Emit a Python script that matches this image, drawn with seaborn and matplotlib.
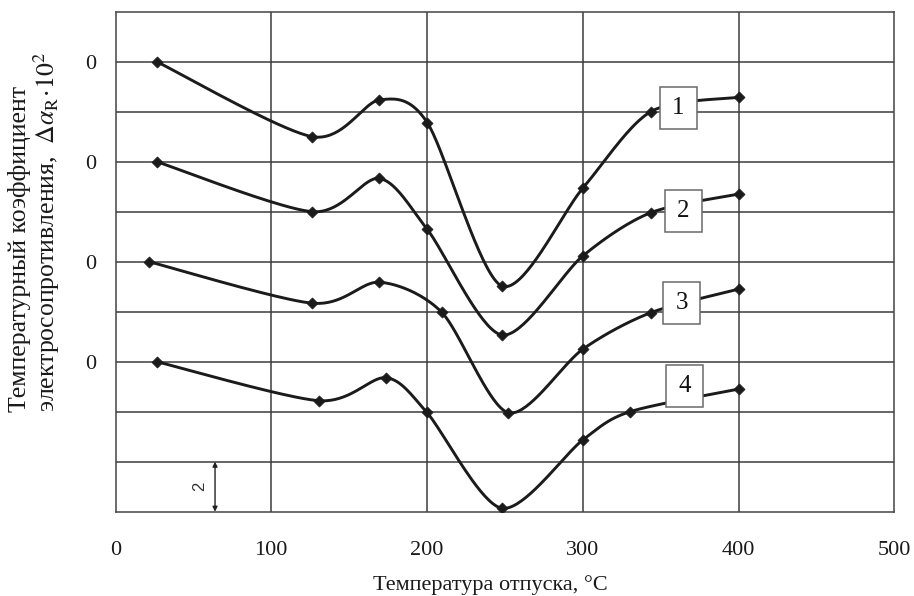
import numpy as np
import pandas as pd
import matplotlib
matplotlib.use("Agg")
import matplotlib.pyplot as plt
from matplotlib.patches import Rectangle
import seaborn as sns

# Tempering temperature, °C, for each curve
temp_1 = [26.5, 126.4, 169.4, 200.2, 248.0, 300.0, 343.6, 400.5]
temp_2 = [26.5, 126.4, 169.4, 200.2, 248.0, 300.0, 343.6, 400.5]
temp_3 = [21.5, 126.4, 169.4, 209.4, 252.2, 300.0, 343.6, 400.5]
temp_4 = [26.5, 130.7, 173.5, 199.8, 248.0, 300.0, 330.3, 400.5]

# Change of the temperature coefficient of resistance, each curve from its own zero
dalpha_1 = [0.0, -3.00, -1.53, -2.44, -8.97, -5.06, -2.00, -1.42]
dalpha_2 = [0.0, -2.00, -0.67, -2.71, -6.93, -3.77, -2.04, -1.29]
dalpha_3 = [0.0, -1.66, -0.82, -2.02, -6.04, -3.50, -2.04, -1.09]
dalpha_4 = [0.0, -1.56, -0.64, -2.02, -5.86, -3.13, -2.00, -1.09]

curve_names = ["1", "2", "3", "4"]
zero_levels = [18, 14, 10, 6]          # where each curve's zero sits on the shared axis
zero_labels = ["0", "0", "0", "0"]
x_ticks = [0, 100, 200, 300, 400, 500]

temps = [temp_1, temp_2, temp_3, temp_4]
values = [dalpha_1, dalpha_2, dalpha_3, dalpha_4]

sns.set_style("white")
plt.rcParams["font.family"] = ["Liberation Serif", "DejaVu Serif"]
plt.rcParams["mathtext.fontset"] = "stix"

W, H = 914, 596
fig = plt.figure(figsize=(W / 100, H / 100), dpi=100)
ax_left, ax_right, ax_top, ax_bot = 115.5, 894.3, 11.7, 511.7
ax = fig.add_axes([ax_left / W, 1 - ax_bot / H, (ax_right - ax_left) / W, (ax_bot - ax_top) / H])
ax.set_xlim(0, 500)
ax.set_ylim(0, 20)

# pixel scale of one data unit, used to smooth in screen proportions
sx = (ax_right - ax_left) / 500
sy = (ax_bot - ax_top) / 20


def smooth(xs, ys, n=40, k=0.14):
    """Catmull-Rom style Bezier smoothing through the given points."""
    P = np.column_stack([np.asarray(xs, float) * sx, np.asarray(ys, float) * sy])
    ext = np.vstack([P[0], P, P[-1]])
    segs = []
    t = np.linspace(0, 1, n)[:, None]
    for i in range(len(P) - 1):
        p0, p1, p2, p3 = ext[i], ext[i + 1], ext[i + 2], ext[i + 3]
        c1 = p1 + (p2 - p0) * k
        c2 = p2 - (p3 - p1) * k
        seg = (1 - t) ** 3 * p1 + 3 * (1 - t) ** 2 * t * c1 + 3 * (1 - t) * t ** 2 * c2 + t ** 3 * p2
        segs.append(seg if i == 0 else seg[1:])
    S = np.vstack(segs)
    return S[:, 0] / sx, S[:, 1] / sy


# grid
grid_c = "#3c3c3c"
for gx in x_ticks[1:-1]:
    ax.axvline(gx, color=grid_c, lw=1.1, zorder=0)
for gy in range(2, 20, 2):
    ax.axhline(gy, color=grid_c, lw=1.1, zorder=0)

line_c = "#1b1b1b"
for name, xs, ys, z0 in zip(curve_names, temps, values, zero_levels):
    yv = [v + z0 for v in ys]
    cx, cy = smooth(xs, yv)
    sns.lineplot(x=cx, y=cy, sort=False, estimator=None, color=line_c, lw=2.1, ax=ax, zorder=3)
    sns.scatterplot(x=xs, y=yv, marker="D", s=32, color=line_c, edgecolor=line_c, linewidth=0.5,
                    ax=ax, zorder=4, legend=False)

# curve number boxes
box_pos = {"1": (361.3, 16.15), "2": (364.5, 12.03), "3": (363.7, 8.33), "4": (365.6, 5.03)}
bw, bh = 37 / sx, 42 / sy
for name in curve_names:
    bx, by = box_pos[name]
    ax.add_patch(Rectangle((bx - bw / 2, by - bh / 2), bw, bh, facecolor="white",
                           edgecolor="#6a6a6a", lw=1.1, zorder=5))
    ax.text(bx, by, name, ha="center", va="center", fontsize=18, color="#111111", zorder=6)

# scale bar: one grid step equals 2 units
ax.annotate("", xy=(63.9, 2), xytext=(63.9, 0),
            arrowprops=dict(arrowstyle="<|-|>", color="#222222", lw=1.0, shrinkA=0, shrinkB=0,
                            mutation_scale=7), zorder=4)
ax.text(54, 1.0, "2", rotation=90, ha="center", va="center", fontsize=12,
        family=["Liberation Sans", "DejaVu Sans"], color="#333333")

ax.set_xticks(x_ticks)
ax.set_xticklabels([str(v) for v in x_ticks], fontsize=16, color="#1a1a1a")
ax.set_yticks(zero_levels)
ax.set_yticklabels(zero_labels, fontsize=16, color="#1a1a1a")
ax.tick_params(axis="x", direction="out", length=7, width=1.0, color="#555555", pad=14)
ax.tick_params(axis="y", length=0, pad=14)
for sp in ax.spines.values():
    sp.set_color("#444444")
    sp.set_linewidth(1.1)
    sp.set_visible(True)

ax.set_xlabel("")
ax.set_ylabel("")
fig.text(490 / W, 1 - 585 / H, "Температура отпуска, °C", ha="center", va="center",
         fontsize=16, color="#1a1a1a")
fig.text(20 / W, 1 - 412 / H, "Температурный коэффициент", rotation=90, ha="center",
         va="bottom", fontsize=18.5, color="#1a1a1a")
fig.text(47 / W, 1 - 412 / H,
         r"электросопротивления,  $\Delta\alpha_{\mathrm{R}}\!\cdot\!10^{2}$",
         rotation=90, ha="center", va="bottom", fontsize=18.5, color="#1a1a1a")

fig.savefig("out.png", dpi=100, facecolor="white")
